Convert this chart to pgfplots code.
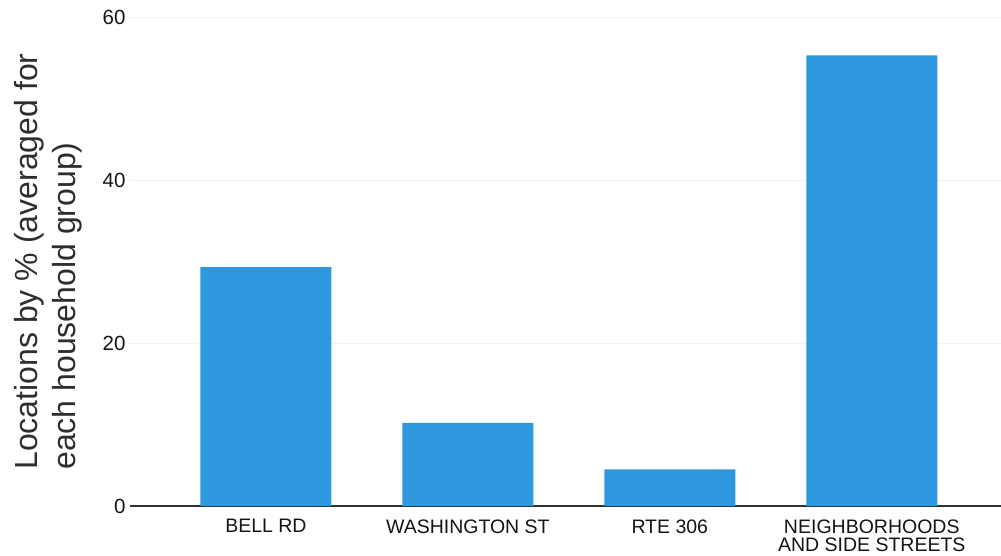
\documentclass[border=0pt]{standalone}
\usepackage{pgfplots}
\pgfplotsset{compat=1.18}
\usepackage{fontspec}
\setmainfont{Liberation Sans}
\definecolor{barblue}{RGB}{45,152,222}
\begin{document}
\begin{tikzpicture}
\useasboundingbox (-130pt,-50pt) rectangle (871pt,506pt);
\begin{axis}[
  at={(0pt,0pt)}, anchor=south west,
  scale only axis,
  width=871pt, height=489pt,
  xmin=-0.673, xmax=3.64,
  ymin=0, ymax=60,
  ytick={0,20,40,60},
  xtick={0,1,2,3},
  xticklabels={BELL RD, WASHINGTON ST, RTE 306, {NEIGHBORHOODS\\AND SIDE STREETS}},
  xticklabel style={font=\fontsize{19.5}{18}\selectfont, align=center, text=black!92, yshift=-10pt},
  yticklabel style={font=\fontsize{20.5}{20}\selectfont, text=black!92, xshift=-1pt},
  /pgf/number format/assume math mode=true,
  axis x line*=bottom,
  axis y line*=left,
  y axis line style={draw=none},
  x axis line style={black!80, line width=1.4pt, -},
  major tick length=0pt,
  ymajorgrids,
  grid style={black!5, line width=0.6pt},
  ylabel={Locations by \% (averaged for\\each household group)},
  every axis y label/.style={at={(ticklabel cs:0.5)}, rotate=90, anchor=south, yshift=14pt,
    font=\fontsize{32}{38}\selectfont, align=left, text=black!82},
]
\addplot[ybar, bar width=131pt, fill=barblue, draw=none] coordinates {(0,29.3) (1,10.2) (2,4.5) (3,55.3)};
\end{axis}
\end{tikzpicture}
\end{document}
